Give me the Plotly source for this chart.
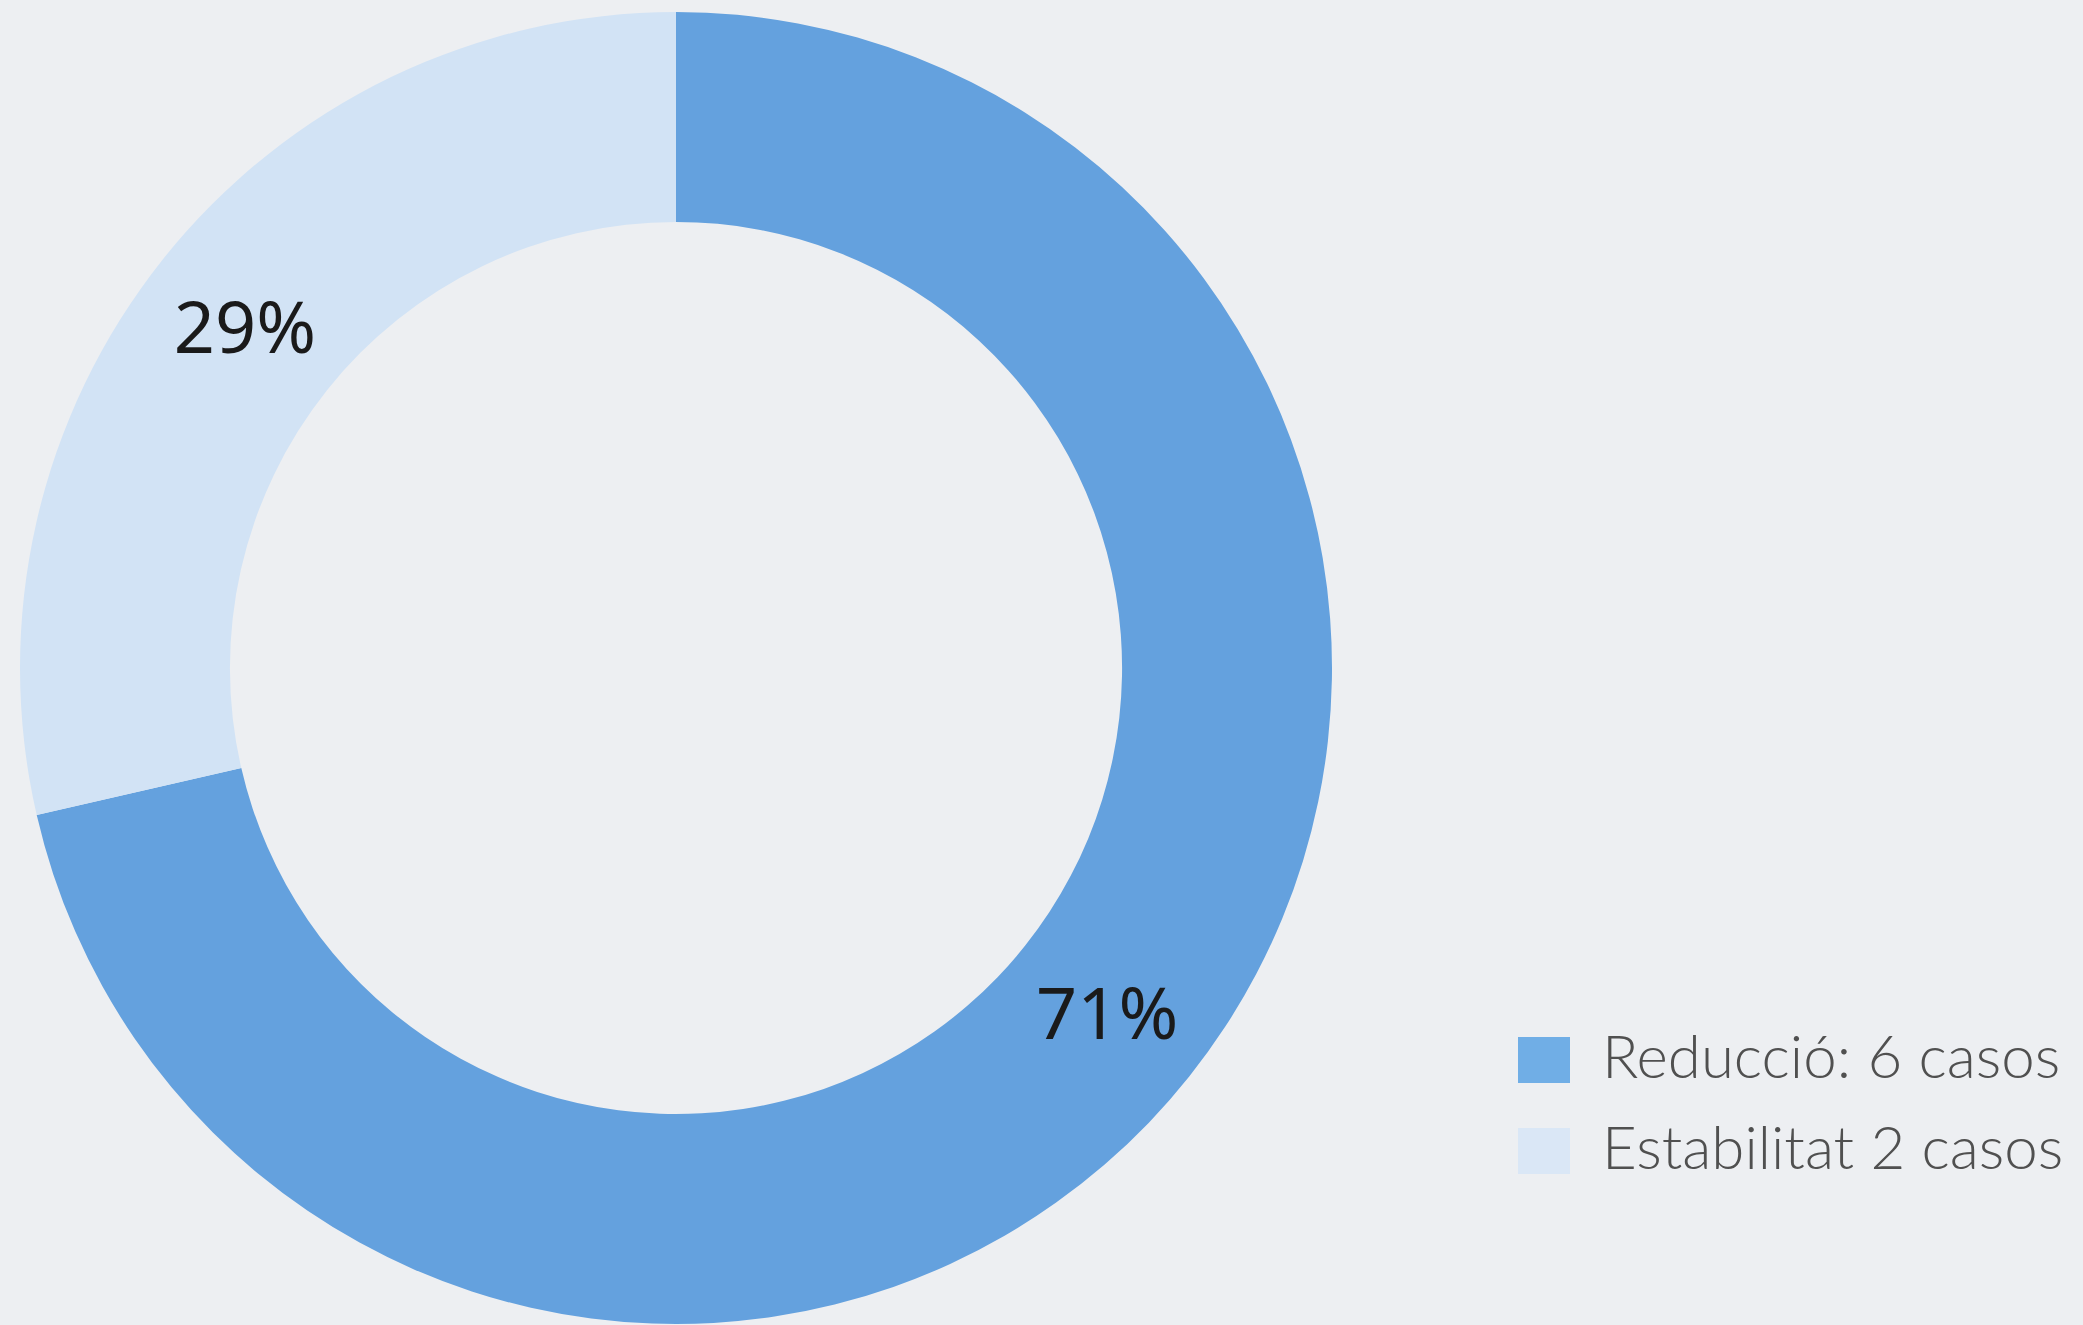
import plotly.graph_objects as go

# Donut data (shares in percent)
labels = ["Reducció: 6 casos", "Estabilitat 2 casos"]
shares = [71.4, 28.6]
colors = ["#64A1DE", "#D2E3F5"]
legend_colors = ["#70AEE6", "#DAE7F6"]

W, H = 2083, 1325
BG = "#EDEFF2"

fig = go.Figure(
    go.Pie(
        labels=labels,
        values=shares,
        texttemplate="%{percent:.0%}",
        textposition="inside",
        insidetextorientation="horizontal",
        insidetextfont=dict(family="Noto Sans", size=72, color="#1a1a1a"),
        marker=dict(colors=colors, line=dict(width=0)),
        hole=0.68,
        sort=False,
        direction="clockwise",
        rotation=0,
        showlegend=False,
        hoverinfo="label+percent",
        domain=dict(x=[20 / W, 1332 / W], y=[1 - 1324 / H, 1 - 12 / H]),
    )
)

# Legend drawn with large swatches
shapes = []
annotations = []
swatch_centers = [1060, 1151]
for lab, col, yc in zip(labels, legend_colors, swatch_centers):
    shapes.append(dict(
        type="rect", xref="paper", yref="paper",
        x0=1518 / W, x1=1570 / W,
        y0=1 - (yc + 23) / H, y1=1 - (yc - 23) / H,
        fillcolor=col, line=dict(width=0),
    ))
    annotations.append(dict(
        text=lab, xref="paper", yref="paper",
        x=1600 / W, y=1 - (yc - 5) / H, xanchor="left", yanchor="middle",
        showarrow=False,
        font=dict(family="Lato", size=60, weight=300, color="#505050"),
    ))

fig.update_layout(
    width=W, height=H,
    margin=dict(l=0, r=0, t=0, b=0),
    paper_bgcolor=BG, plot_bgcolor=BG,
    shapes=shapes, annotations=annotations,
)

fig.write_html("out.html")
